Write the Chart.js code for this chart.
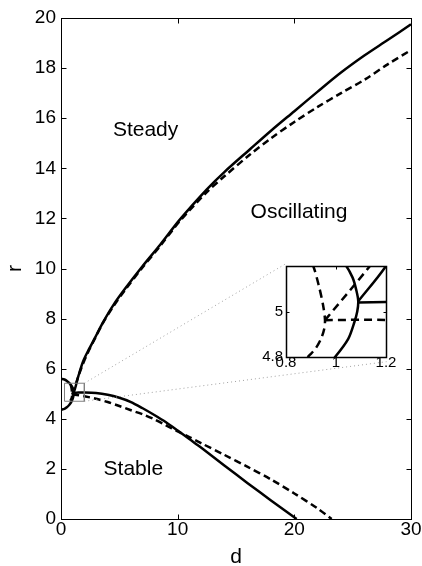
<!DOCTYPE html>
<html>
<head>
<meta charset="utf-8">
<script src="https://cdn.jsdelivr.net/npm/chart.js@4/dist/chart.umd.min.js"></script>
<style>
  html, body { margin: 0; padding: 0; background: #fff; }
  #wrap { position: relative; width: 422px; height: 566px; }
  #main { position: absolute; left: 0; top: 0; }
  #inset { position: absolute; left: 244px; top: 254px; }
</style>
</head>
<body>
<div id="wrap">
  <canvas id="main" width="422" height="566"></canvas>
  <canvas id="inset" width="152" height="128"></canvas>
</div>
<script>
// Closed loop near the origin (solid and dashed)
const solidLoopD = [0, 0.3, 0.5, 0.7, 0.85, 0.96, 1.03, 1.066, 1.082, 1.089, 1.085, 1.074, 1.049, 0.996, 0.93, 0.84, 0.7, 0.5, 0.3, 0];
const solidLoopR = [5.6, 5.57, 5.51, 5.43, 5.35, 5.27, 5.215, 5.15, 5.09, 5.045, 5.0, 4.955, 4.88, 4.80, 4.72, 4.64, 4.55, 4.46, 4.4, 4.36];
const dashedLoopD = [0.84, 0.875, 0.909, 0.932, 0.948, 0.956, 0.952, 0.94, 0.92, 0.896, 0.86, 0.8];
const dashedLoopR = [5.36, 5.28, 5.2, 5.11, 5.03, 4.962, 4.92, 4.88, 4.84, 4.81, 4.77, 4.72];

// Steady / oscillating boundary
const upperSolidD = [1.089, 1.2, 1.5, 1.9, 2.4, 2.9, 3.6, 4.5, 5.5, 7, 8.5, 10.2, 12.5, 14, 16.2, 18, 20, 22, 24, 26, 28, 30];
const upperSolidR = [5.045, 5.2, 5.72, 6.3, 6.78, 7.22, 7.85, 8.55, 9.2, 10.1, 10.95, 11.96, 13.16, 13.85, 14.76, 15.5, 16.28, 17.06, 17.82, 18.5, 19.12, 19.75];
const upperDashedD = [0.956, 1.136, 1.4, 1.8, 2.3, 2.9, 3.6, 4.5, 5.5, 7, 8.5, 10.2, 12.5, 14, 16.2, 18, 20, 22, 24, 26.1, 28, 30];
const upperDashedR = [4.962, 5.2, 5.57, 6.1, 6.64, 7.2, 7.83, 8.5, 9.15, 10.05, 10.9, 11.9, 13.05, 13.68, 14.55, 15.2, 15.85, 16.45, 17.0, 17.56, 18.15, 18.72];

// Stable boundary
const lowerSolidD = [1.089, 1.5, 2, 3, 4, 5, 6, 7, 8, 9, 10, 11, 12, 14, 16, 18, 20.2];
const lowerSolidR = [5.04, 5.045, 5.05, 5.03, 4.96, 4.84, 4.67, 4.42, 4.15, 3.86, 3.53, 3.19, 2.85, 2.14, 1.43, 0.74, 0];
const lowerDashedD = [0.956, 1.2, 2, 3, 4, 5, 6, 7, 8, 9, 10, 11, 12, 14, 16, 18, 20, 22, 23.2];
const lowerDashedR = [4.962, 4.962, 4.9, 4.8, 4.67, 4.51, 4.34, 4.18, 3.98, 3.74, 3.5, 3.27, 3.03, 2.56, 2.08, 1.58, 1.02, 0.42, 0];

// Magnified-region marker and its connector lines (in d, r units)
const zoomBoxD = [0.3, 2.0, 2.0, 0.3, 0.3];
const zoomBoxR = [5.42, 5.42, 4.7, 4.7, 5.42];
const connectorUpperD = [2.0, 19.3];
const connectorUpperR = [5.42, 10.2];
const connectorLowerD = [2.0, 27.9];
const connectorLowerR = [4.7, 6.28];

// Region names
const regionNames = ['Steady', 'Oscillating', 'Stable'];
const regionD = [7.25, 20.4, 6.2];
const regionR = [15.52, 12.25, 1.99];

// Tick values
const xTicks = [0, 10, 20, 30];
const yTicks = [0, 2, 4, 6, 8, 10, 12, 14, 16, 18, 20];
const insetXTicks = [0.8, 1, 1.2];
const insetYTicks = [4.8, 5];

const FONT = "'Liberation Sans', Arial, Helvetica, sans-serif";

function pts(ds, rs) { return ds.map((d, i) => ({ x: d, y: rs[i] })); }

function curveSets(width, dash) {
  const base = { pointRadius: 0, borderColor: '#000', borderWidth: width, fill: false, tension: 0.3 };
  return [
    Object.assign({}, base, { data: pts(solidLoopD, solidLoopR) }),
    Object.assign({}, base, { data: pts(dashedLoopD, dashedLoopR), borderDash: dash }),
    Object.assign({}, base, { data: pts(upperDashedD, upperDashedR), borderDash: dash }),
    Object.assign({}, base, { data: pts(lowerDashedD, lowerDashedR), borderDash: dash }),
    Object.assign({}, base, { data: pts(upperSolidD, upperSolidR) }),
    Object.assign({}, base, { data: pts(lowerSolidD, lowerSolidR) })
  ];
}

// Box round the plot area with inward tick marks on all four sides
const framePlugin = {
  id: 'frame',
  beforeDatasetsDraw(chart, args, opts) {
    if (!opts.fillWhite) return;
    const a = chart.chartArea, ctx = chart.ctx;
    ctx.save();
    ctx.fillStyle = '#fff';
    ctx.fillRect(a.left, a.top, a.right - a.left, a.bottom - a.top);
    ctx.restore();
  },
  afterDatasetsDraw(chart, args, opts) {
    const { ctx, chartArea: a, scales } = chart;
    ctx.save();
    ctx.strokeStyle = '#000';
    ctx.lineWidth = opts.lineWidth;
    const o = opts.lineWidth % 2 ? 0.5 : 0;
    const L = Math.round(a.left) + o, R = Math.round(a.right) + o;
    const T = Math.round(a.top) + o, B = Math.round(a.bottom) + o;
    ctx.strokeRect(L, T, R - L, B - T);
    ctx.lineWidth = 1;
    ctx.beginPath();
    scales.x.ticks.forEach(t => {
      const px = Math.round(scales.x.getPixelForValue(t.value)) + 0.5;
      ctx.moveTo(px, B); ctx.lineTo(px, B - opts.tick);
      ctx.moveTo(px, T); ctx.lineTo(px, T + opts.tick);
    });
    scales.y.ticks.forEach(t => {
      const py = Math.round(scales.y.getPixelForValue(t.value)) + 0.5;
      ctx.moveTo(L, py); ctx.lineTo(L + opts.tick, py);
      ctx.moveTo(R, py); ctx.lineTo(R - opts.tick, py);
    });
    ctx.stroke();
    ctx.restore();
  }
};

// Region names and axis titles
const labelPlugin = {
  id: 'labels',
  afterDraw(chart) {
    const { ctx, chartArea: a, scales } = chart;
    ctx.save();
    ctx.fillStyle = '#000';
    ctx.font = '21px ' + FONT;
    ctx.textAlign = 'center';
    ctx.textBaseline = 'middle';
    regionNames.forEach((name, i) => {
      ctx.fillText(name, scales.x.getPixelForValue(regionD[i]), scales.y.getPixelForValue(regionR[i]));
    });
    ctx.font = '21px ' + FONT;
    ctx.textBaseline = 'alphabetic';
    ctx.fillText('d', (a.left + a.right) / 2, 563);
    ctx.translate(21, (a.top + a.bottom) / 2);
    ctx.rotate(-Math.PI / 2);
    ctx.fillText('r', 0, 0);
    ctx.restore();
  }
};

Chart.register(framePlugin);

const mainSets = [
  { data: pts(zoomBoxD, zoomBoxR), borderColor: '#808080', borderWidth: 1, pointRadius: 0, tension: 0 },
  { data: pts(connectorUpperD, connectorUpperR), borderColor: '#a0a0a0', borderWidth: 1, borderDash: [1, 3], pointRadius: 0, tension: 0 },
  { data: pts(connectorLowerD, connectorLowerR), borderColor: '#a0a0a0', borderWidth: 1, borderDash: [1, 3], pointRadius: 0, tension: 0 }
].concat(curveSets(2.5, [7, 4]));

new Chart(document.getElementById('main'), {
  type: 'line',
  data: { datasets: mainSets },
  options: {
    responsive: false,
    animation: false,
    events: [],
    layout: { padding: { top: 18, right: 11, left: 0, bottom: 0 } },
    plugins: {
      legend: { display: false },
      tooltip: { enabled: false },
      frame: { lineWidth: 1, tick: 5 }
    },
    scales: {
      x: {
        type: 'linear', min: 0, max: 30,
        afterBuildTicks: s => { s.ticks = xTicks.map(v => ({ value: v })); },
        afterFit: s => { s.height = 47; },
        grid: { display: false, drawTicks: false },
        border: { display: false },
        ticks: { color: '#000', font: { family: FONT, size: 19 }, padding: -1, maxRotation: 0, autoSkip: false }
      },
      y: {
        type: 'linear', min: 0, max: 20,
        afterBuildTicks: s => { s.ticks = yTicks.map(v => ({ value: v })); },
        afterFit: s => { s.width = 61; },
        grid: { display: false, drawTicks: false },
        border: { display: false },
        ticks: { color: '#000', font: { family: FONT, size: 19 }, padding: 5, autoSkip: false }
      }
    }
  },
  plugins: [labelPlugin]
});

new Chart(document.getElementById('inset'), {
  type: 'line',
  data: { datasets: curveSets(2.5, [8, 5]) },
  options: {
    responsive: false,
    animation: false,
    events: [],
    layout: { padding: { top: 10, right: 10, left: 0, bottom: 0 } },
    plugins: {
      legend: { display: false },
      tooltip: { enabled: false },
      frame: { lineWidth: 1.5, tick: 3, fillWhite: true }
    },
    scales: {
      x: {
        type: 'linear', min: 0.8, max: 1.2,
        afterBuildTicks: s => { s.ticks = insetXTicks.map(v => ({ value: v })); },
        afterFit: s => { s.height = 25; },
        grid: { display: false, drawTicks: false },
        border: { display: false },
        ticks: { color: '#000', font: { family: FONT, size: 15 }, padding: -3, maxRotation: 0, autoSkip: false,
                 callback: v => String(v) }
      },
      y: {
        type: 'linear', min: 4.8, max: 5.2,
        afterBuildTicks: s => { s.ticks = insetYTicks.map(v => ({ value: v })); },
        afterFit: s => { s.width = 42; },
        grid: { display: false, drawTicks: false },
        border: { display: false },
        ticks: { color: '#000', font: { family: FONT, size: 15 }, padding: 3, autoSkip: false,
                 callback: v => String(v) }
      }
    }
  }
});
</script>
</body>
</html>
